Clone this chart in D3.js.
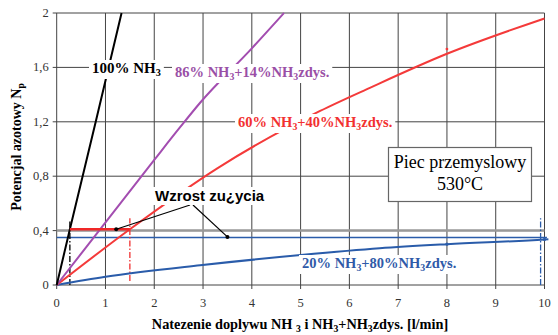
<!DOCTYPE html>
<html><head><meta charset="utf-8">
<script src="https://cdn.jsdelivr.net/npm/d3@7"></script>
<style>body{margin:0;background:#fff}</style>
</head><body>
<svg id="c" width="558" height="335"></svg>
<script>
// ---- data ----
const xTicks = [0,1,2,3,4,5,6,7,8,9,10];
const yTicks = [0,0.4,0.8,1.2,1.6,2];
const yTickLabels = ["0","0,4","0,8","1,2","1,6","2"];
const s100X = [0,0.27,0.8,1.33];
const s100Y = [0,0.41,1.2,2];
const s86X = [0,2,2.53,2.94,4,4.66];
const s86Y = [0,0.92,1.16,1.34,1.74,2];
const s60X = [0,1.5,3.3,5.4,6.42,8,10];
const s60Y = [0,0.41,0.86,1.28,1.45,1.7,1.96];
const s20X = [0,1,2.94,5,6.62,8,10,10.08];
const s20Y = [0,0.06,0.145,0.22,0.27,0.30,0.335,0.337];
const limitLevel = 0.35;   // blue horizontal
const refLevel = 0.4;      // gray reference
const redLevel = 0.41;     // red horizontal
const redFrom = 0.27, redTo = 1.5;
const dropLines = [{x:0.27,y0:0,y1:0.47,c:"#000"},{x:1.5,y0:0.03,y1:0.49,c:"#f03030"},{x:9.92,y0:0,y1:0.49,c:"#2a5caa"}];

const svg = d3.select("#c");
const x = d3.scaleLinear().domain([0,10]).range([56.7,544.5]);
const y = d3.scaleLinear().domain([0,2]).range([285,13]);
const serif = "Liberation Serif, Times New Roman, serif";

// grid
const g = svg.append("g");
g.selectAll(".vg").data(xTicks).join("line")
  .attr("x1",d=>x(d)).attr("x2",d=>x(d)).attr("y1",y(0)+4).attr("y2",y(2))
  .attr("stroke","#444").attr("stroke-width",1);
g.selectAll(".hg").data(yTicks).join("line")
  .attr("x1",x(0)-4).attr("x2",x(10)).attr("y1",d=>y(d)).attr("y2",d=>y(d))
  .attr("stroke","#444").attr("stroke-width",1);

// axis labels
svg.selectAll(".xt").data(xTicks).join("text")
  .attr("x",d=>x(d)).attr("y",y(0)+22).attr("text-anchor","middle")
  .style("font-family",serif).attr("font-size",12.5).attr("fill","#333").text(d=>d);
svg.selectAll(".yt").data(yTicks).join("text")
  .attr("x",x(0)-8).attr("y",d=>y(d)+4).attr("text-anchor","end")
  .style("font-family",serif).attr("font-size",12.5).attr("fill","#333").text((d,i)=>yTickLabels[i]);

// reference horizontal lines
svg.append("line").attr("x1",x(0)).attr("x2",x(10)).attr("y1",y(refLevel)).attr("y2",y(refLevel))
  .attr("stroke","#999").attr("stroke-width",2.5);
svg.append("line").attr("x1",x(0)).attr("x2",x(10.05)).attr("y1",y(limitLevel)).attr("y2",y(limitLevel))
  .attr("stroke","#2a5caa").attr("stroke-width",1.5);

// drop lines
svg.selectAll(".dl").data(dropLines).join("line")
  .attr("x1",d=>x(d.x)).attr("x2",d=>x(d.x)).attr("y1",d=>y(d.y0)).attr("y2",d=>y(d.y1))
  .attr("stroke",d=>d.c).attr("stroke-width",1.3).attr("stroke-dasharray","6,2,1.5,2");

const line = d3.line().x(d=>x(d[0])).y(d=>y(d[1])).curve(d3.curveMonotoneX);
function series(xs,ys,col){
  svg.append("path").datum(xs.map((v,i)=>[v,ys[i]])).attr("d",line)
    .attr("fill","none").attr("stroke",col).attr("stroke-width",2);
}
series(s20X,s20Y,"#2a5caa");
series(s60X,s60Y,"#f43a3a");
series(s86X,s86Y,"#a34db0");
series(s100X,s100Y,"#000");

svg.append("line").attr("x1",x(redFrom)).attr("x2",x(redTo)).attr("y1",y(redLevel)).attr("y2",y(redLevel))
  .attr("stroke","#f02828").attr("stroke-width",2.5);

// small markers
svg.append("circle").attr("cx",x(8)).attr("cy",y(s20Y[5])).attr("r",1.6).attr("fill","#2a5caa");
svg.append("circle").attr("cx",x(10)).attr("cy",y(s20Y[6])).attr("r",1.6).attr("fill","#2a5caa");
svg.append("circle").attr("cx",x(8)).attr("cy",y(1.735)).attr("r",1.4).attr("fill","#f43a3a");

// text with subscripts
function rich(t,parts,size){
  let lowered=false;
  parts.forEach(p=>{
    const ts = t.append("tspan");
    if(p.sub){ ts.attr("font-size",size*0.68).attr("dy",3).text(p.sub); lowered=true; }
    else { if(lowered){ ts.attr("dy",-3); lowered=false; } ts.text(p.t); }
  });
}
function label(px,py,parts,col,size,family){
  const grp = svg.append("g");
  const rect = grp.append("rect").attr("fill","#fff");
  const t = grp.append("text").attr("x",px).attr("y",py).attr("fill",col)
    .style("font-family",family).attr("font-size",size).attr("font-weight","bold");
  rich(t,parts,size);
  const b = t.node().getBBox();
  rect.attr("x",b.x-3).attr("y",b.y).attr("width",b.width+6).attr("height",b.height+1);
  return grp;
}
label(92,73,[{t:"100% NH"},{sub:"3"}],"#000",15,serif);
label(175,77,[{t:"86% NH"},{sub:"3"},{t:"+14%NH"},{sub:"3"},{t:"zdys."}],"#9a4fa6",14.5,serif);
label(238,127,[{t:"60% NH"},{sub:"3"},{t:"+40%NH"},{sub:"3"},{t:"zdys."}],"#f23030",14.5,serif);
label(302,268,[{t:"20% NH"},{sub:"3"},{t:"+80%NH"},{sub:"3"},{t:"zdys."}],"#2f5aa8",14.5,serif);

// arrows
svg.append("line").attr("x1",190).attr("y1",205).attr("x2",x(1.22)).attr("y2",y(redLevel)).attr("stroke","#000").attr("stroke-width",1.2);
svg.append("line").attr("x1",193).attr("y1",205).attr("x2",x(3.5)).attr("y2",y(limitLevel)-0.5).attr("stroke","#000").attr("stroke-width",1.2);
svg.append("circle").attr("cx",x(1.22)).attr("cy",y(redLevel)).attr("r",2).attr("fill","#000");
svg.append("circle").attr("cx",x(3.5)).attr("cy",y(limitLevel)-0.5).attr("r",2).attr("fill","#000");
label(155,201,[{t:"Wzrost zu¿ycia"}],"#000",15,"Liberation Sans, Arial, sans-serif");

// box
const bx = svg.append("g");
bx.append("rect").attr("x",388.5).attr("y",147.5).attr("width",143).attr("height",54)
  .attr("fill","#fff").attr("stroke","#666").attr("stroke-width",1.2);
bx.append("text").attr("x",460).attr("y",168).attr("text-anchor","middle").style("font-family",serif)
  .attr("font-size",18).text("Piec przemyslowy");
bx.append("text").attr("x",460).attr("y",190).attr("text-anchor","middle").style("font-family",serif)
  .attr("font-size",18).text("530°C");

// axis titles
const xt = svg.append("text").attr("x",300).attr("y",329).attr("text-anchor","middle")
  .style("font-family",serif).attr("font-weight","bold").attr("font-size",14.3);
rich(xt,[{t:"Natezenie doplywu NH "},{sub:"3"},{t:" i NH"},{sub:"3"},{t:"+NH"},{sub:"3"},{t:"zdys. [l/min]"}],14.3);

const yt = svg.append("text").attr("transform","translate(21,147) rotate(-90)").attr("text-anchor","middle")
  .style("font-family",serif).attr("font-weight","bold").attr("font-size",14);
rich(yt,[{t:"Potencjal azotowy N"},{sub:"p"}],14);
</script>
</body></html>
